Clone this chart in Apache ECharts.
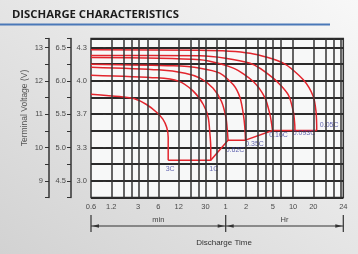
<!DOCTYPE html>
<html>
<head>
<meta charset="utf-8">
<script src="https://cdn.jsdelivr.net/npm/echarts@6/dist/echarts.min.js"></script>
<style>
html,body{margin:0;padding:0;}
#main{width:358px;height:254px;background:linear-gradient(to bottom left,#f8f8f8,#d2d2d2);}
</style>
</head>
<body>
<div id="main"></div>
<script>
// x axis is log of discharge time in minutes; the right edge carries the "24" label
const xMin = 0.6;
const xMax = 3343;
const gridMin = [1.2, 1.8, 2.4, 3, 4.2, 6, 12, 18, 24, 30, 45, 60, 120, 180, 240, 300, 400, 600, 1200, 1800, 2400, 3000];
const xLabelMin = [0.6, 1.2, 3, 6, 12, 30, 60, 120, 300, 600, 1200, 3343];
const xLabels = ['0.6', '1.2', '3', '6', '12', '30', '1', '2', '5', '10', '20', '24'];

// y axis in 12V pack voltage
const yMin = 8.5;
const yMax = 13.27;
const voltTicks = [9, 10, 11, 12, 13];
const pack12Labels = ['9', '10', '11', '12', '13'];
const pack6Labels = ['4.5', '5.0', '5.5', '6.0', '6.5'];
const cellLabels = ['3.0', '3.3', '3.7', '4.0', '4.3'];

// discharge curves: time (min) / voltage (V)
const time3C = [0.6, 1.6, 2.6, 4.0, 5.7, 7.0, 8.0, 8.4, 8.4];
const volt3C = [11.60, 11.53, 11.47, 11.29, 11.05, 10.85, 10.6, 10.3, 9.62];
const time1C = [0.6, 5.7, 11.9, 19.8, 27.9, 33, 35, 36, 36];
const volt1C = [12.17, 12.09, 11.99, 11.69, 11.29, 10.9, 10.4, 10.0, 9.62];
const time062C = [0.6, 6, 15, 25, 39, 52, 60.6, 63.5, 65];
const volt062C = [12.41, 12.33, 12.23, 12.08, 11.78, 11.38, 10.89, 10.5, 10.22];
const time035C = [0.6, 10, 25, 49, 78, 98, 110, 116, 118];
const volt035C = [12.50, 12.45, 12.38, 12.23, 11.88, 11.49, 10.98, 10.55, 10.22];
const time016C = [0.6, 25, 78, 154, 230, 273, 289, 297];
const volt016C = [12.70, 12.63, 12.38, 11.98, 11.49, 10.98, 10.7, 10.51];
const time0093C = [0.6, 25, 138, 305, 510, 605, 635, 640];
const volt0093C = [12.76, 12.75, 12.53, 12.08, 11.58, 11.08, 10.7, 10.51];
const time005C = [0.6, 25, 138, 430, 852, 1199, 1315, 1345, 1347];
const volt005C = [12.93, 12.92, 12.83, 12.53, 12.03, 11.53, 11.08, 10.7, 10.51];

const curves = [
	{name: '3C', t: time3C, v: volt3C},
	{name: '1C', t: time1C, v: volt1C},
	{name: '0.62C', t: time062C, v: volt062C},
	{name: '0.35C', t: time035C, v: volt035C},
	{name: '0.16C', t: time016C, v: volt016C},
	{name: '0.093C', t: time0093C, v: volt0093C},
	{name: '0.05C', t: time005C, v: volt005C}
];
// where each rate label sits relative to the curve's end point (px)
const labelOffset = [[2, 9], [3, 9], [7, 10], [9, 4], [6, 5], [9, 2.5], [12.5, -5.5]];

const red = '#e2252d';
const gridColor = '#333';
const lg = Math.log10;

function endOf(c) {
	return [lg(c.t[c.t.length - 1]), c.v[c.v.length - 1]];
}

let series = [];
// vertical grid lines of the log time scale
series.push({
	type: 'line', data: [], z: 1, silent: true,
	markLine: {
		silent: true, symbol: ['none', 'none'], label: {show: false},
		lineStyle: {color: gridColor, width: 1.5, type: 'solid'},
		emphasis: {disabled: true},
		data: gridMin.map(m => ({xAxis: lg(m)}))
	}
});
curves.forEach(function (c) {
	series.push({
		type: 'line', name: c.name, yAxisIndex: 2, z: 3, silent: true,
		symbol: 'none', smooth: 0.25,
		lineStyle: {color: red, width: 1.5},
		data: c.t.map((t, i) => [lg(t), c.v[i]])
	});
});
// end-of-discharge line joining the curve ends
series.push({
	type: 'line', yAxisIndex: 2, z: 3, silent: true, symbol: 'none',
	lineStyle: {color: red, width: 1.5},
	data: curves.map(endOf)
});
series.push({
	type: 'scatter', yAxisIndex: 2, z: 4, silent: true, symbolSize: 1,
	itemStyle: {color: 'transparent'},
	label: {show: true, position: 'inside', color: '#3b3f9c', fontSize: 7, fontFamily: 'Liberation Sans'},
	data: curves.map((c, i) => ({
		value: endOf(c),
		label: {formatter: c.name, offset: labelOffset[i]}
	}))
});

function tickText(list, v) {
	let i = voltTicks.indexOf(Math.round(v * 100) / 100);
	return i < 0 ? '' : list[i];
}

const labelFont = {fontSize: 7.5, color: '#4a4a4a', fontFamily: 'Liberation Sans'};

let option = {
	animation: false,
	grid: {
		left: 91, top: 38.5, right: 14.7, bottom: 56.5,
		show: true, borderColor: gridColor, borderWidth: 1.5, backgroundColor: '#f7f8f8',
		outerBoundsMode: 'none'
	},
	xAxis: {
		type: 'value', min: lg(xMin), max: lg(xMax),
		axisLine: {show: false}, axisTick: {show: false}, splitLine: {show: false},
		axisLabel: Object.assign({
			customValues: xLabelMin.map(lg), margin: 5,
			formatter: function (val) {
				let best = 0;
				xLabelMin.forEach(function (m, i) {
					if (Math.abs(lg(m) - val) < Math.abs(lg(xLabelMin[best]) - val)) best = i;
				});
				return xLabels[best];
			}
		}, labelFont)
	},
	yAxis: [
		{
			type: 'value', min: yMin, max: yMax, position: 'left', offset: 0,
			axisLine: {show: false}, splitLine: {show: false},
			axisTick: {show: true, inside: false, customValues: voltTicks, length: 3, lineStyle: {color: '#333'}},
			axisLabel: Object.assign({customValues: voltTicks, margin: 4, formatter: v => tickText(cellLabels, v)}, labelFont)
		},
		{
			type: 'value', min: yMin, max: yMax, interval: 0.5, position: 'left', offset: 20,
			axisLine: {show: true, lineStyle: {color: '#333', width: 1.5}}, splitLine: {show: false},
			axisTick: {show: true, inside: false, length: 4, lineStyle: {color: '#333'}},
			axisLabel: Object.assign({margin: 5, formatter: v => tickText(pack6Labels, v)}, labelFont)
		},
		{
			type: 'value', min: yMin, max: yMax, interval: 0.5, position: 'left', offset: 42,
			axisLine: {show: true, lineStyle: {color: '#333', width: 1.5}},
			splitLine: {show: true, lineStyle: {color: '#2a2a2a', width: 1.8, opacity: 1}},
			axisTick: {show: true, inside: false, length: 4, lineStyle: {color: '#333'}},
			axisLabel: Object.assign({margin: 6, formatter: v => tickText(pack12Labels, v)}, labelFont)
		}
	],
	series: series
};

var chart = echarts.init(document.getElementById('main'));
chart.setOption(option);

// title, axis name and the min / Hr dimension bracket under the time axis
let x0 = chart.convertToPixel({xAxisIndex: 0}, lg(xMin));
let x1 = chart.convertToPixel({xAxisIndex: 0}, lg(60));
let x2 = chart.convertToPixel({xAxisIndex: 0}, lg(xMax));
let by = 226;
let ink = '#333';
function arrow(x, dir) {
	return {type: 'polygon', shape: {points: [[x, by], [x + dir * 7, by - 1.8], [x + dir * 7, by + 1.8]]}, style: {fill: ink}};
}
let g = [
	{type: 'text', x: 12, y: 15, style: {text: 'DISCHARGE CHARACTERISTICS', fontSize: 11.3, fontWeight: 'bold', fontFamily: 'Open Sans', fill: '#1c1c1c', verticalAlign: 'middle'}},
	{type: 'rect', shape: {x: 0, y: 23.5, width: 330, height: 2}, style: {fill: '#4a78b8'}},
	{type: 'text', x: 25, y: 108, rotation: Math.PI / 2, style: {text: 'Terminal Voltage (V)', fontSize: 8.5, fontFamily: 'Liberation Sans', fill: '#555', align: 'center', verticalAlign: 'middle'}},
	{type: 'line', shape: {x1: x0, y1: by, x2: x2, y2: by}, style: {stroke: ink, lineWidth: 1}},
	{type: 'line', shape: {x1: x0, y1: 215, x2: x0, y2: 232}, style: {stroke: ink, lineWidth: 1.2}},
	{type: 'line', shape: {x1: x1, y1: 215, x2: x1, y2: 232}, style: {stroke: ink, lineWidth: 1.2}},
	{type: 'line', shape: {x1: x2, y1: 215, x2: x2, y2: 232}, style: {stroke: ink, lineWidth: 1.2}},
	arrow(x0 + 1, 1), arrow(x1 - 1, -1), arrow(x1 + 1, 1), arrow(x2 - 1, -1),
	{type: 'text', x: (x0 + x1) / 2, y: 220, style: {text: 'min', fontSize: 7.5, fontFamily: 'Liberation Sans', fill: '#444', align: 'center', verticalAlign: 'middle'}},
	{type: 'text', x: (x1 + x2) / 2, y: 220, style: {text: 'Hr', fontSize: 7.5, fontFamily: 'Liberation Sans', fill: '#444', align: 'center', verticalAlign: 'middle'}},
	{type: 'text', x: 224, y: 243, style: {text: 'Discharge Time', fontSize: 8, fontFamily: 'Liberation Sans', fill: '#333', align: 'center', verticalAlign: 'middle'}}
];
chart.setOption({graphic: g});
</script>
</body>
</html>
